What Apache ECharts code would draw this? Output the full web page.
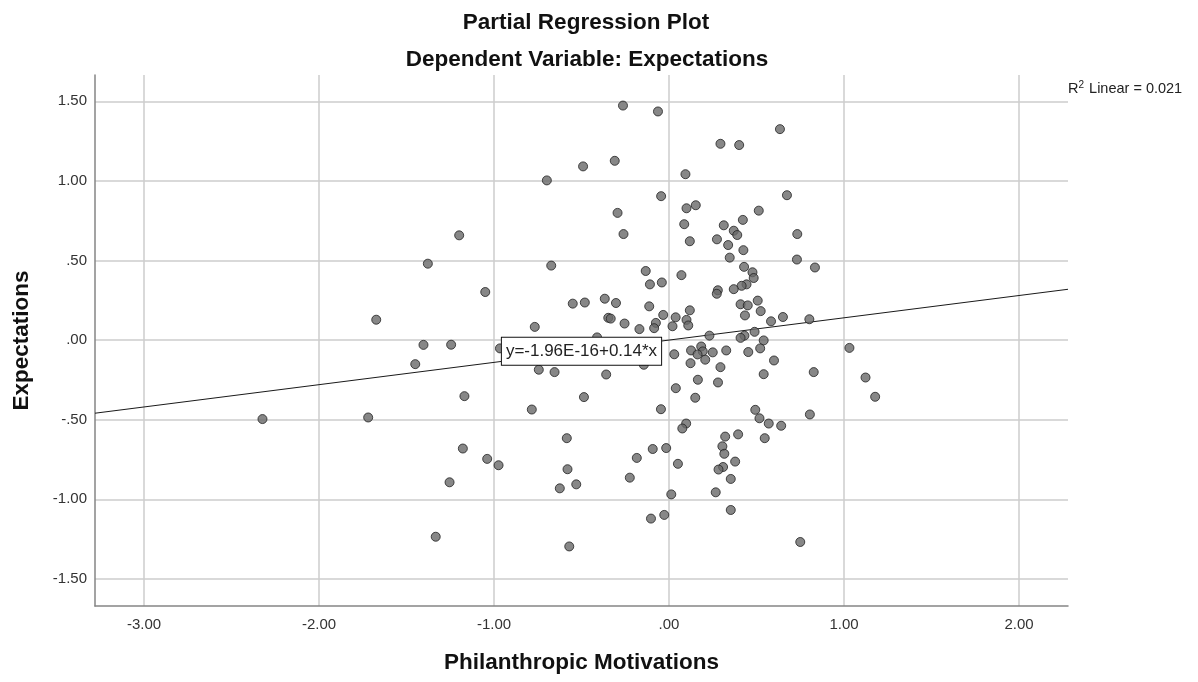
<!DOCTYPE html>
<html>
<head>
<meta charset="utf-8">
<title>Partial Regression Plot</title>
<script src="https://cdn.jsdelivr.net/npm/echarts@6/dist/echarts.min.js"></script>
<style>
  html, body { margin: 0; padding: 0; background: #ffffff; }
  #chart { width: 1198px; height: 682px; }
</style>
</head>
<body>
<div id="chart"></div>
<script>
// Partial regression residuals: Philanthropic Motivations (x) vs Expectations (y)
const motivations = [
  -0.263, -0.063, 0.634, 0.294, 0.401, -0.310, -0.491, 0.094, -0.698, 0.674,
  -0.045, 0.153, 0.100, 0.513, -0.294, 0.422, 0.087, 0.313, 0.370, 0.390,
  0.733, -0.260, -1.199, 0.274, 0.119, 0.338, 0.425, 0.347, 0.731, -1.378,
  -0.673, 0.834, 0.429, -0.133, 0.071, 0.477, 0.484, -0.109, -0.041, 0.443,
  0.415, 0.370, 0.279, 0.273, -1.050, -0.367, 0.507, -0.550, -0.481, -0.303,
  0.409, 0.450, -0.113, 0.119, 0.524, -0.033, 0.434, 0.651, 0.038, -0.347,
  -0.333, 0.100, 0.802, -1.673, 0.583, -0.254, -0.075, 0.110, 0.020, -0.767,
  -0.085, -0.169, 0.489, 0.431, 0.409, 0.231, 0.541, -0.411, -1.403, -1.245,
  -0.966, 0.521, 1.031, 0.184, 0.126, 0.193, 0.163, 0.250, 0.327, 0.453,
  0.030, 0.207, 0.600, 0.123, -1.450, -0.144, 0.294, -0.744, -0.654, 0.827,
  -0.359, 0.541, 1.123, 0.165, 0.280, 0.039, -1.169, -0.486, 0.150, 1.178,
  -0.784, -0.046, 0.493, 0.805, -2.323, -1.719, 0.517, 0.098, 0.076, 0.570,
  0.641, 0.395, 0.321, 0.547, -0.584, 0.305, -1.178, -0.093, -0.016, 0.316,
  -0.184, -1.039, 0.378, 0.051, -0.974, 0.309, 0.283, -0.580, -0.224, 0.353,
  -1.254, -0.530, -0.624, 0.267, 0.013, 0.353, -0.027, -0.103, -1.333, 0.750,
  -0.570
];
const expectations = [
  1.473, 1.436, 1.325, 1.233, 1.225, 1.126, 1.091, 1.042, 1.003, 0.910,
  0.904, 0.847, 0.828, 0.813, 0.799, 0.755, 0.728, 0.721, 0.687, 0.660,
  0.666, 0.666, 0.658, 0.633, 0.621, 0.597, 0.565, 0.518, 0.506, 0.480,
  0.468, 0.456, 0.460, 0.434, 0.408, 0.426, 0.390, 0.350, 0.362, 0.350,
  0.341, 0.320, 0.313, 0.291, 0.302, 0.260, 0.248, 0.229, 0.236, 0.233,
  0.225, 0.218, 0.212, 0.187, 0.182, 0.158, 0.155, 0.145, 0.143, 0.140,
  0.135, 0.127, 0.131, 0.128, 0.118, 0.104, 0.108, 0.092, 0.087, 0.083,
  0.075, 0.069, 0.052, 0.028, 0.014, 0.028, -0.002, 0.017, -0.030, -0.029,
  -0.052, -0.052, -0.049, -0.040, -0.065, -0.071, -0.090, -0.077, -0.065, -0.075,
  -0.089, -0.123, -0.128, -0.145, -0.151, -0.155, -0.170, -0.186, -0.201, -0.201,
  -0.216, -0.214, -0.235, -0.249, -0.266, -0.302, -0.352, -0.358, -0.362, -0.356,
  -0.436, -0.434, -0.438, -0.467, -0.496, -0.486, -0.491, -0.524, -0.555, -0.524,
  -0.538, -0.592, -0.606, -0.616, -0.616, -0.667, -0.681, -0.684, -0.678, -0.714,
  -0.740, -0.746, -0.763, -0.777, -0.786, -0.797, -0.813, -0.811, -0.864, -0.872,
  -0.893, -0.906, -0.931, -0.956, -0.969, -1.067, -1.098, -1.121, -1.235, -1.268,
  -1.296
];

// Fit line and its stated statistics
const intercept = -1.96e-16;
const slope = 0.14;
const rSquared = 0.021;
const equationText = 'y=-1.96E-16+0.14*x';
const equationAtX = -0.5;

// Axis ranges
const xRange = [-3.28, 2.28];
const yRange = [-1.67, 1.665];

const titleLines = ['Partial Regression Plot', 'Dependent Variable: Expectations'];
const xAxisTitle = 'Philanthropic Motivations';
const yAxisTitle = 'Expectations';

const FONT = '"Liberation Sans", Arial, sans-serif';

// Tick labels in the ".00 / -.50 / 1.00" style
function tickFormat(v) {
  let s = Math.abs(v).toFixed(2);
  if (s.charAt(0) === '0') s = s.slice(1);
  return (v < 0 ? '-' : '') + s;
}

const points = motivations.map((x, i) => [x, expectations[i]]);
const fitLine = xRange.map(x => [x, intercept + slope * x]);

const chart = echarts.init(document.getElementById('chart'), null, { renderer: 'canvas' });

chart.setOption({
  animation: false,
  backgroundColor: '#ffffff',
  textStyle: { fontFamily: FONT },
  grid: { left: 95, right: 130, top: 75, bottom: 76, containLabel: false },
  graphic: [
    {
      type: 'text', x: 586, y: 23,
      style: { text: titleLines[0], font: 'bold 22.5px ' + FONT, fill: '#111', textAlign: 'center', textVerticalAlign: 'middle' }
    },
    {
      type: 'text', x: 587, y: 60,
      style: { text: titleLines[1], font: 'bold 22.5px ' + FONT, fill: '#111', textAlign: 'center', textVerticalAlign: 'middle' }
    },
    {
      type: 'text', x: 1068, y: 89,
      style: {
        text: 'R{sup|2} Linear = ' + rSquared.toFixed(3),
        font: '14.5px ' + FONT, fill: '#222', textVerticalAlign: 'middle',
        rich: { sup: { fontSize: 10, verticalAlign: 'top', padding: [0, 1, 7, 0], fill: '#222' } }
      }
    }
  ],
  xAxis: {
    type: 'value',
    min: xRange[0], max: xRange[1],
    splitNumber: 5,
    name: xAxisTitle,
    nameLocation: 'middle',
    nameGap: 45,
    nameTextStyle: { fontFamily: FONT, fontWeight: 'bold', fontSize: 22.5, color: '#111' },
    axisLine: { show: true, onZero: false, lineStyle: { color: '#858585', width: 1.5 } },
    axisTick: { show: false },
    axisLabel: {
      formatter: tickFormat, fontFamily: FONT, fontSize: 15, color: '#333', margin: 11,
      showMinLabel: false, showMaxLabel: false
    },
    splitLine: { show: true, showMinLine: false, showMaxLine: false, lineStyle: { color: '#cdcdcd', width: 1.5 } }
  },
  yAxis: {
    type: 'value',
    min: yRange[0], max: yRange[1],
    splitNumber: 6,
    name: yAxisTitle,
    nameLocation: 'middle',
    nameRotate: 90,
    nameGap: 62,
    nameTextStyle: { fontFamily: FONT, fontWeight: 'bold', fontSize: 22.5, color: '#111' },
    axisLine: { show: true, onZero: false, lineStyle: { color: '#858585', width: 1.5 } },
    axisTick: { show: false },
    axisLabel: {
      formatter: tickFormat, fontFamily: FONT, fontSize: 15, color: '#333', margin: 8,
      showMinLabel: false, showMaxLabel: false
    },
    splitLine: { show: true, showMinLine: false, showMaxLine: false, lineStyle: { color: '#cdcdcd', width: 1.5 } }
  },
  series: [
    {
      type: 'line',
      data: fitLine,
      symbol: 'none',
      silent: true,
      z: 2,
      lineStyle: { color: '#1a1a1a', width: 1 },
      markPoint: {
        silent: true,
        z: 10,
        symbol: 'rect',
        symbolSize: 1,
        itemStyle: { color: 'rgba(0,0,0,0)' },
        label: {
          show: true,
          position: 'inside',
          formatter: equationText,
          fontFamily: FONT,
          fontSize: 17,
          color: '#222',
          backgroundColor: '#ffffff',
          borderColor: '#111',
          borderWidth: 1,
          padding: [5, 4, 5, 4]
        },
        data: [{ coord: [equationAtX, intercept + slope * equationAtX] }]
      }
    },
    {
      type: 'scatter',
      data: points,
      symbol: 'circle',
      symbolSize: 9,
      z: 3,
      itemStyle: { color: '#696969', borderColor: '#222222', borderWidth: 1 }
    }
  ]
});
</script>
</body>
</html>
